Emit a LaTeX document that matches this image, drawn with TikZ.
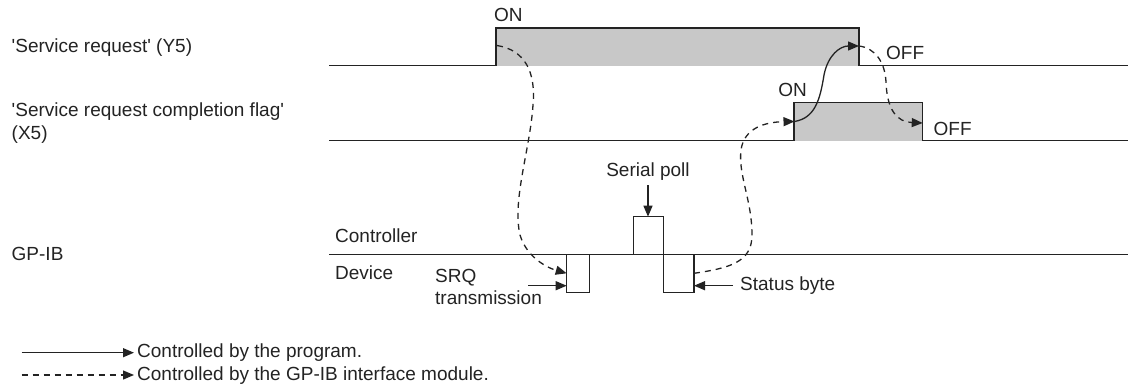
\documentclass[tikz,border=0pt]{standalone}
\usepackage{fontspec}
\setmainfont{Liberation Sans}
\usetikzlibrary{arrows.meta}
\definecolor{pulsegrey}{RGB}{200,200,200}
\definecolor{ink}{RGB}{35,35,35}
\begin{document}
\begin{tikzpicture}[x=1pt,y=-1pt,
  lbl/.style={font=\fontsize{19}{22}\selectfont, inner sep=0pt, anchor=base west, text=ink},
  lblc/.style={lbl, anchor=base},
  wave/.style={line width=1.4pt, draw=ink, line join=miter},
  prog/.style={line width=1.3pt, draw=ink, -{Triangle[length=11pt,width=9pt]}},
  mod/.style={prog, dash pattern=on 6pt off 5pt}]
\path[use as bounding box] (0,0) rectangle (1128,389);

% left labels
\node[lbl] (lsr) at (11.5,52.3) {\textquotesingle Service request\textquotesingle{} (Y5)};
\node[lbl] (lcf) at (11.5,116.5) {\textquotesingle Service request completion flag\textquotesingle};
\node[lbl] (lx5) at (11.5,139.3) {(X5)};
\node[lbl] (lgp) at (11.5,260) {GP-IB};

% Y5 waveform
\fill[pulsegrey] (496,28) rectangle (859,65.5);
\draw[wave] (329,65.5) -- (496,65.5) -- (496,28) -- (859,28) -- (859,65.5) -- (1128,65.5);
\node[lbl] (on1) at (494,21.7) {ON};
\node[lbl] (off1) at (886,59.3) {OFF};

% X5 waveform
\fill[pulsegrey] (794,102.7) rectangle (922.7,140.5);
\draw[wave] (329,140.5) -- (794,140.5) -- (794,102.7) -- (922.7,102.7) -- (922.7,140.5) -- (1128,140.5);
\node[lblc] (on2) at (792.5,96.7) {ON};
\node[lbl] (off2) at (933.5,135) {OFF};

% GP-IB
\draw[wave] (329,254.3) -- (1128,254.3);
\draw[wave] (566.7,254.3) rectangle (589.3,292.7);
\draw[wave] (633.3,216.7) rectangle (663.3,254.3);
\draw[wave] (663.3,254.3) rectangle (694,292.7);
\node[lbl] (ctl) at (335,242.7) {Controller};
\node[lbl] (dev) at (335,279.3) {Device};
\node[lbl] (srq) at (435,282.3) {SRQ};
\node[lbl] (trm) at (435,304) {transmission};
\node[lblc] (sp) at (648,176.7) {Serial poll};
\node[lbl] (sb) at (740,290.7) {Status byte};

% coordinates for connectors
\coordinate (spa) at (648,185);
\coordinate (spb) at (648,216.7);
\coordinate (srqa) at (528,285.7);
\coordinate (srqb) at (566.7,285.7);
\coordinate (sba) at (733,285.7);
\coordinate (sbb) at (694,285.7);
\coordinate (r1) at (497,45.5);
\coordinate (p1) at (566.7,273.3);
\coordinate (p2) at (694,273.3);
\coordinate (r2) at (794.5,121.5);
\coordinate (f1) at (859,46);
\coordinate (f2) at (922.7,123);

\draw[prog] (spa) -- (spb);
\draw[prog] (srqa) -- (srqb);
\draw[prog] (sba) -- (sbb);

\draw[mod] (r1) .. controls (525,50) and (536,72) .. (533,105)
  .. controls (530,150) and (512,200) .. (520,235)
  .. controls (527,258) and (548,268) .. (p1);
\draw[mod] (p2) .. controls (730,268) and (752,262) .. (752,235)
  .. controls (752,200) and (738,175) .. (741,150)
  .. controls (744,128) and (765,122) .. (r2);
\draw[prog] (r2) .. controls (815,118) and (820,100) .. (824,75)
  .. controls (828,55) and (840,46) .. (f1);
\draw[mod] (f1) .. controls (875,48) and (885,62) .. (886,82)
  .. controls (887,110) and (897,122) .. (f2);

% legend
\coordinate (la1) at (21.7,352.7);
\coordinate (lb1) at (134,352.7);
\coordinate (la2) at (21.7,375);
\coordinate (lb2) at (134,375);
\draw[prog] (la1) -- (lb1);
\draw[mod] (la2) -- (lb2);
\node[lbl] (lg1) at (137,357.3) {Controlled by the program.};
\node[lbl] (lg2) at (137,380) {Controlled by the GP-IB interface module.};
\end{tikzpicture}
\end{document}
